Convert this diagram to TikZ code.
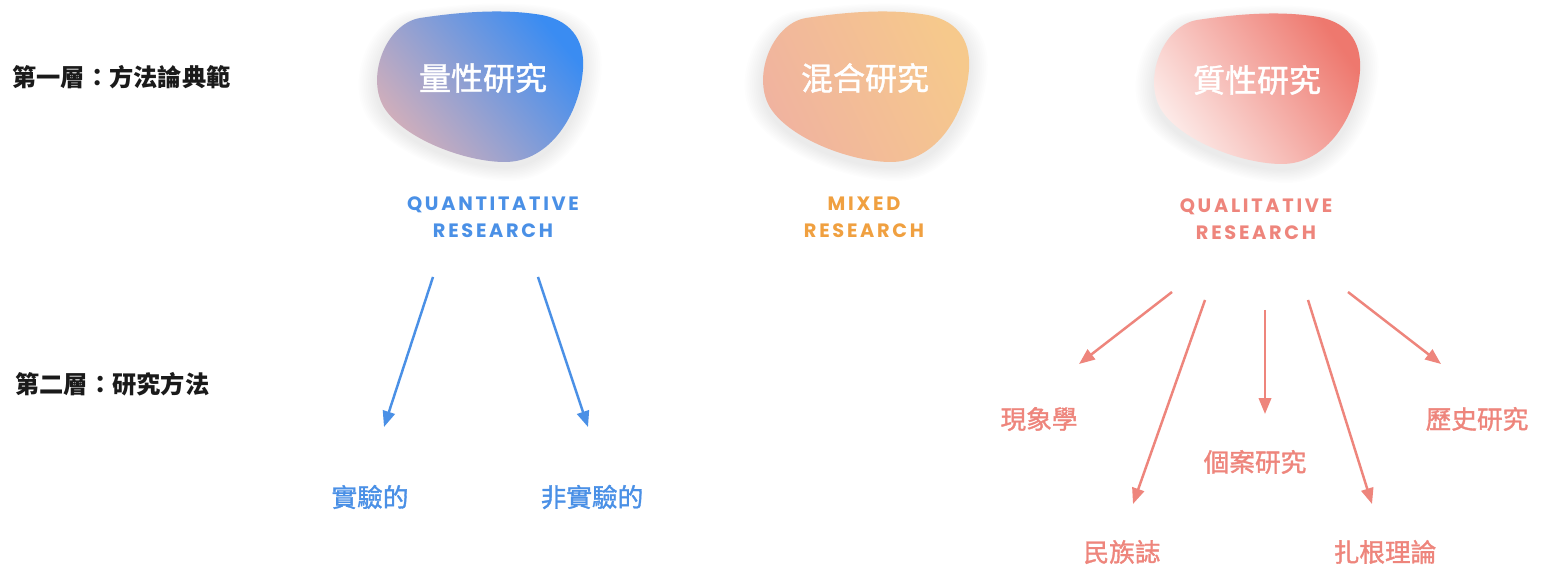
\documentclass[tikz,border=0pt]{standalone}
\usepackage{fontspec}
\newfontfamily\cjk{Noto Sans CJK TC}
\newfontfamily\cjkmed[FakeBold=1.3]{Noto Sans CJK TC}
\newfontfamily\latinfont[LetterSpace=14]{Poppins}
\usetikzlibrary{arrows.meta}
\definecolor{qblue}{HTML}{4A90E6}
\definecolor{morange}{HTML}{F0A040}
\definecolor{qpink}{HTML}{EE857C}
\definecolor{layertext}{HTML}{1A1A1A}
\definecolor{blueA}{HTML}{D8B0B8}
\definecolor{blueM}{HTML}{6098E6}
\definecolor{blueB}{HTML}{3A8CF2}
\definecolor{mixA}{HTML}{F0B2A0}
\definecolor{mixM}{HTML}{F1BC9A}
\definecolor{mixB}{HTML}{F6C98C}
\definecolor{pinkA}{HTML}{FDF0EE}
\definecolor{pinkM}{HTML}{F2A49C}
\definecolor{pinkB}{HTML}{EE786E}
\newcommand{\blobshape}{(-60,-66) .. controls (-20,-72) and (20,-75) .. (55,-70)
  .. controls (90,-66) and (105,-45) .. (103,-15)
  .. controls (100,30) and (70,78) .. (25,78)
  .. controls (-15,78) and (-75,55) .. (-95,25)
  .. controls (-115,-5) and (-95,-60) .. (-60,-66) -- cycle}
\newcommand{\blobglow}{\foreach \i in {1,...,10} {\path[fill=black, opacity=0.009, shift={(0,5)}, scale=1+0.018*\i] \blobshape;}}
\begin{document}
\begin{tikzpicture}[x=0.02cm,y=-0.02cm,
  layer/.style={font=\cjk\bfseries\fontsize{13.8}{16}\selectfont, text=layertext, anchor=west, inner sep=0pt},
  blobtext/.style={font=\cjkmed\fontsize{18.2}{20}\selectfont, text=white, inner sep=0pt},
  entext/.style={font=\latinfont\bfseries\fontsize{11}{15.3}\selectfont, align=center, inner sep=0pt},
  leaf/.style={font=\cjkmed\fontsize{14.6}{16}\selectfont, inner sep=0pt},
  bluearrow/.style={draw=qblue, line width=1.4pt, -{Triangle[length=9pt,width=7pt]}},
  pinkarrow/.style={draw=qpink, line width=1.4pt, -{Triangle[length=9pt,width=7pt]}}
]
\useasboundingbox[fill=white] (0,0) rectangle (1546,570);

% blobs
\begin{scope}[shift={(480,84)}]
  \blobglow
  \path[left color=blueA, middle color=blueM, right color=blueB, shading angle=130] \blobshape;
\end{scope}
\begin{scope}[shift={(866,84)}]
  \blobglow
  \path[left color=mixA, middle color=mixM, right color=mixB, shading angle=115] \blobshape;
\end{scope}
\begin{scope}[shift={(1257,86)}]
  \blobglow
  \path[left color=pinkA, middle color=pinkM, right color=pinkB, shading angle=125] \blobshape;
\end{scope}

% layer labels
\node[layer] (l1) at (12,77) {第一層：方法論典範};
\node[layer] (l2) at (15,384) {第二層：研究方法};

% blob titles
\node[blobtext] (quan) at (483,78) {量性研究};
\node[blobtext] (mix) at (865,78) {混合研究};
\node[blobtext] (qual) at (1257,80) {質性研究};

% english labels
\node[entext, text=qblue] (quanen) at (493,217) {QUANTITATIVE\\RESEARCH};
\node[entext, text=morange] (mixen) at (864,217) {MIXED\\RESEARCH};
\node[entext, text=qpink] (qualen) at (1256,219) {QUALITATIVE\\RESEARCH};

% leaves
\node[leaf, text=qblue] (exp) at (370,497) {實驗的};
\node[leaf, text=qblue] (nonexp) at (592,497) {非實驗的};
\node[leaf, text=qpink] (phen) at (1039,419) {現象學};
\node[leaf, text=qpink] (ethno) at (1122,552) {民族誌};
\node[leaf, text=qpink] (case) at (1255,462) {個案研究};
\node[leaf, text=qpink] (ground) at (1385,552) {扎根理論};
\node[leaf, text=qpink] (hist) at (1477,419) {歷史研究};

% arrow end points
\coordinate (b1s) at (433,277); \coordinate (b1e) at (384,427);
\coordinate (b2s) at (538,277); \coordinate (b2e) at (588,427);
\coordinate (p1s) at (1172,292); \coordinate (p1e) at (1079,364);
\coordinate (p2s) at (1205,300); \coordinate (p2e) at (1133,504);
\coordinate (p3s) at (1265,310); \coordinate (p3e) at (1265,414);
\coordinate (p4s) at (1308,300); \coordinate (p4e) at (1372,504);
\coordinate (p5s) at (1348,292); \coordinate (p5e) at (1441,364);

\draw[bluearrow] (b1s) -- (b1e);
\draw[bluearrow] (b2s) -- (b2e);
\draw[pinkarrow] (p1s) -- (p1e);
\draw[pinkarrow] (p2s) -- (p2e);
\draw[pinkarrow] (p3s) -- (p3e);
\draw[pinkarrow] (p4s) -- (p4e);
\draw[pinkarrow] (p5s) -- (p5e);
\end{tikzpicture}
\end{document}
